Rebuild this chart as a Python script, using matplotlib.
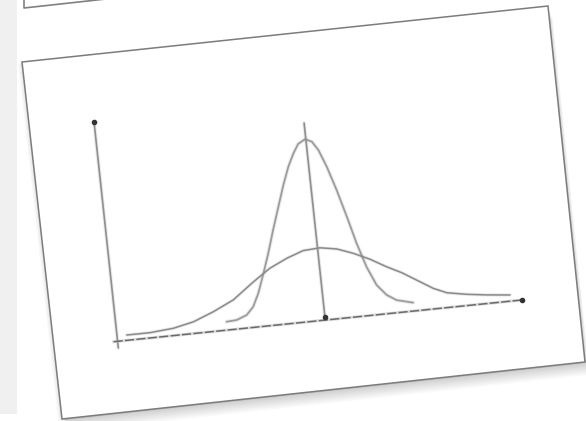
import numpy as np
import matplotlib
matplotlib.use("Agg")
import matplotlib.pyplot as plt
from matplotlib.transforms import Affine2D
from matplotlib.patches import Polygon

# sketch values (chart units: x axis 0..100, y axis 0..100)
narrow_x = [27.2, 29.7, 32.3, 34.1, 35.7, 37.5, 39.2, 41.0, 42.9, 44.7, 46.4, 48.0, 49.4,
            51.2, 52.8, 54.2, 55.8, 57.6, 59.4, 61.1, 62.9, 64.9, 67.1, 69.4, 73.4]
narrow_y = [3.8, 4.1, 5.9, 9.3, 15.1, 23.9, 32.7, 43.0, 53.2, 62.8, 70.8, 76.6, 80.6,
            82.4, 81.0, 76.9, 69.0, 58.1, 45.6, 33.1, 22.1, 13.4, 8.5, 5.7, 3.8]
wide_x = [2.4, 8.2, 14.0, 19.1, 24.2, 29.4, 34.8, 39.2, 43.6, 47.8, 52.0, 56.1, 60.0,
          64.0, 67.8, 71.4, 75.6, 78.7, 81.9, 86.7, 91.6, 97.3]
wide_y = [2.4, 2.4, 3.3, 5.3, 8.9, 13.3, 20.5, 25.9, 29.6, 32.3, 32.8, 31.5, 28.8,
          25.3, 21.2, 17.8, 12.9, 9.3, 6.7, 5.1, 3.9, 2.8]
mean_x = 51.4
mean_top = 89.7
axis_max = 100

# paper sheet corners in the photo (pixels)
paper_x = [22, 548, 585, 62]
paper_y = [62, 6, 362, 419]

fig = plt.figure(figsize=(5.86, 4.21), dpi=100)
ax = fig.add_axes([0, 0, 1, 1])
ax.set_xlim(0, 586)
ax.set_ylim(421, 0)
ax.axis("off")

# grey page strip on the left
ax.add_patch(plt.Rectangle((0, 0), 17, 414, color="#f0f0f0", lw=0))

# remnant of the sheet above
ax.plot([24, 24, 115], [0, 8, -2], color="#808080", lw=1.2)

# soft shadow under the sheet
for k in range(1, 9):
    ax.add_patch(Polygon(np.c_[np.array(paper_x) + k * 0.6, np.array(paper_y) + k * 1.6],
                         closed=True, fc="#000000", alpha=0.025, lw=0))
for k in range(1, 6):
    ax.add_patch(Polygon(np.c_[np.array(paper_x) - k * 0.8, np.array(paper_y) + k * 0.4],
                         closed=True, fc="#000000", alpha=0.02, lw=0))
ax.add_patch(Polygon(np.c_[paper_x, paper_y], closed=True, fc="white",
                     ec="#7c7c7c", lw=1.1))

# tilted chart drawn on the sheet
tilt = Affine2D(np.array([[4.04, -0.2359, 117.6],
                          [-0.4129, -2.196, 341.3],
                          [0, 0, 1]])) + ax.transData


def sketch(x, y, color, lw, **kw):
    # soft halo first, then the pencil stroke
    ax.plot(x, y, color=color, lw=lw * 2.2, alpha=0.18, transform=tilt,
            solid_joinstyle="round", solid_capstyle="round")
    ax.plot(x, y, color=color, lw=lw, transform=tilt,
            solid_joinstyle="round", solid_capstyle="round", **kw)


gray = "#8f8f8f"
sketch([0, 0], [-3, axis_max], gray, 1.2)
ax.plot([-1, axis_max], [0, 0], color="#bdbdbd", lw=2.2, alpha=0.5, transform=tilt)
ax.plot([-1, axis_max], [0, 0], color="#6a6a6a", lw=1.1, ls=(0, (6, 1.5)), transform=tilt)
sketch(narrow_x, narrow_y, "#9c9c9c", 1.3)
sketch(wide_x, wide_y, "#8a8a8a", 1.1)
sketch([mean_x, mean_x], [1.5, mean_top], gray, 1.2)

ax.plot([0, axis_max, mean_x], [axis_max, 0, 1.5], "o", color="#333333", ms=3,
        transform=tilt)

fig.savefig("out.png", dpi=100)
